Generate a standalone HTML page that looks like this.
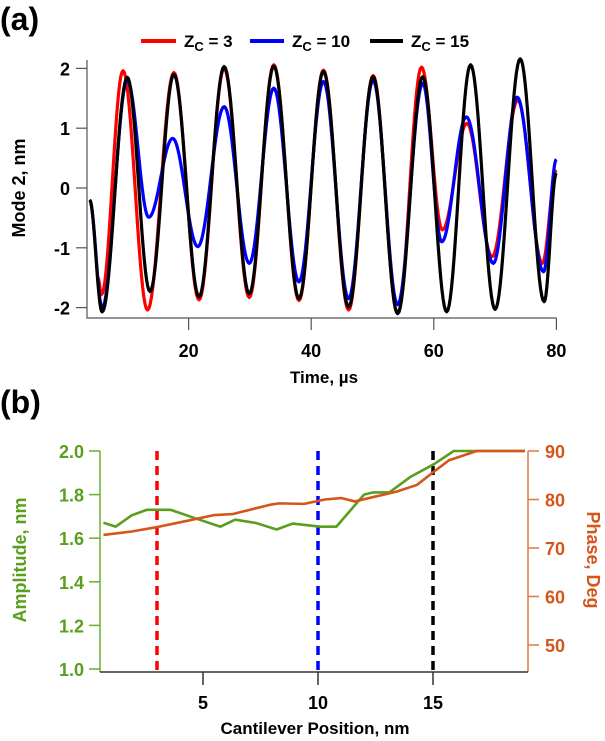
<!DOCTYPE html>
<html><head><meta charset="utf-8"><style>
body{margin:0;background:#fff;}
svg{display:block;font-family:"Liberation Sans",sans-serif;font-weight:bold;}
</style></head><body>
<svg id="fig" width="605" height="741" viewBox="0 0 605 741" xmlns="http://www.w3.org/2000/svg">
<text x="0" y="30" font-size="32">(a)</text>
<text x="0" y="413" font-size="32">(b)</text>
<g>
 <g><line x1="141" y1="41" x2="176" y2="41" stroke="#f00" stroke-width="4"/><text x="184" y="47" font-size="17">Z<tspan font-size="13" dy="4">C</tspan><tspan dy="-4"> = 3</tspan></text></g>
 <g><line x1="250" y1="41" x2="284" y2="41" stroke="#00f" stroke-width="4"/><text x="292" y="47" font-size="17">Z<tspan font-size="13" dy="4">C</tspan><tspan dy="-4"> = 10</tspan></text></g>
 <g><line x1="370" y1="41" x2="403" y2="41" stroke="#000" stroke-width="4"/><text x="411" y="47" font-size="17">Z<tspan font-size="13" dy="4">C</tspan><tspan dy="-4"> = 15</tspan></text></g>
</g>
<g id="pa"></g>
<g id="pb"></g>
</svg>
<script>
// Panel (a) data: extrema of each trace (time µs, displacement nm)
const redT=[5.2,5.8,9.3,13.3,17.6,21.7,25.8,29.9,33.9,38.0,42.0,46.1,50.1,54.1,58.0,61.4,65.4,69.5,73.7,77.7,80];
const redV=[-1.5,-1.78,1.96,-2.04,1.93,-1.87,2.0,-1.83,2.06,-1.88,1.97,-2.04,1.88,-2.1,2.02,-0.7,1.08,-1.15,1.47,-1.26,0.3];
const blueT=[3.85,5.9,10.0,13.5,17.4,21.5,25.8,29.9,33.9,38.0,42.0,46.1,50.1,54.1,58.2,61.3,65.3,69.7,73.6,77.9,80];
const blueV=[-0.2,-2.0,1.8,-0.49,0.83,-0.98,1.36,-1.26,1.67,-1.57,1.78,-1.85,1.8,-1.95,1.75,-0.9,1.19,-1.26,1.52,-1.4,0.48];
const blackT=[3.85,5.9,10.0,13.7,17.6,21.7,25.8,29.9,33.9,38.0,42.0,46.1,50.1,54.1,58.2,62.1,66.0,70.0,74.1,78.0,80];
const blackV=[-0.2,-2.07,1.85,-1.73,1.9,-1.82,2.03,-1.77,2.04,-1.85,1.95,-1.99,1.86,-2.1,1.86,-2.07,2.06,-2.03,2.16,-1.9,0.25];
const aXTicks=[20,40,60,80];
const aYTicks=[-2,-1,0,1,2];
// Panel (b) data
const posG=[0.67,1.2,1.9,2.55,3.6,4.7,5.75,6.4,7.3,8.2,8.9,10.1,10.8,12.0,12.4,13.1,14.0,15.05,15.9,19.0];
const amp=[1.671,1.653,1.705,1.73,1.73,1.69,1.653,1.685,1.67,1.64,1.667,1.653,1.653,1.80,1.81,1.81,1.88,1.94,2.0,2.0];
const posP=[0.67,1.9,3.1,4.1,5.5,6.3,7.9,8.3,9.4,10.3,11.0,11.6,12.4,13.4,14.3,15.0,15.7,16.9,19.0];
const phase=[72.7,73.4,74.4,75.4,76.8,77.0,78.9,79.2,79.1,80.0,80.3,79.6,80.5,81.6,83.0,85.6,88.1,90,90];
const markers=[3,10,15];
const markerColors=['#f00','#00f','#000'];
const bXTicks=[5,10,15];
const ampTicks=[1.0,1.2,1.4,1.6,1.8,2.0];
const phaseTicks=[50,60,70,80,90];

const NS='http://www.w3.org/2000/svg';
function mk(parent,tag,attrs){const e=document.createElementNS(NS,tag);for(const k in attrs)e.setAttribute(k,attrs[k]);parent.appendChild(e);return e;}
// axis functions
const ax=t=>66+(t)*6.13, ay=v=>188-v*59.8;
const bx=p=>88+p*23, bya=a=>451+(2-a)*218, byp=d=>451+(90-d)*4.85;

const pa=document.getElementById('pa');
function wave(T,V,color,name){
 let d='';
 for(let i=0;i<T.length-1;i++){
  for(let s=0;s<=20;s++){const f=s/20;const t=T[i]+(T[i+1]-T[i])*f;const v=V[i]+(V[i+1]-V[i])*(1-Math.cos(Math.PI*f))/2;
   d+=(d?'L':'M')+ax(t).toFixed(2)+' '+ay(v).toFixed(2);}
 }
 const p=mk(pa,'path',{d:d,fill:'none',stroke:color,'stroke-width':3.2,'stroke-linejoin':'round'});
 
 
}
wave(redT,redV,'#f00','series-zc3');
wave(blueT,blueV,'#00f','series-zc10');
wave(blackT,blackV,'#000','series-zc15');
// axes a
const axA=mk(pa,'path',{d:`M87 60V318H${ax(80)}`,fill:'none',stroke:'#555','stroke-width':1.2});


aXTicks.forEach(t=>{mk(pa,'line',{x1:ax(t),x2:ax(t),y1:318,y2:330,stroke:'#555','stroke-width':1.2});
 const tx=mk(pa,'text',{x:ax(t),y:357,'font-size':18,'text-anchor':'middle'});tx.textContent=t;
 
 });
aYTicks.forEach(v=>{mk(pa,'line',{x1:76,x2:87,y1:ay(v),y2:ay(v),stroke:'#555','stroke-width':1.2});
 const tx=mk(pa,'text',{x:70,y:ay(v)+7,'font-size':18,'text-anchor':'end'});tx.textContent=v;
 
 });
let t1=mk(pa,'text',{x:324,y:383,'font-size':17,'text-anchor':'middle'});t1.textContent='Time, µs';


let t2=mk(pa,'text',{x:0,y:0,'font-size':18,'text-anchor':'middle',transform:'translate(25,188) rotate(-90)'});t2.textContent='Mode 2, nm';



// panel b
const pb=document.getElementById('pb');
markers.forEach((m,i)=>{const l=mk(pb,'line',{x1:bx(m),x2:bx(m),y1:451,y2:670,stroke:markerColors[i],'stroke-width':3.5,'stroke-dasharray':'9 6'});
 
 });
function poly(X,Y,fx,fy,color,name){let d='';X.forEach((x,i)=>{d+=(i?'L':'M')+fx(x).toFixed(2)+' '+fy(Y[i]).toFixed(2);});
 const p=mk(pb,'path',{d:d,fill:'none',stroke:color,'stroke-width':2.6,'stroke-linejoin':'round'});
 
 }
poly(posG,amp,bx,bya,'#5a9e1e','amplitude-line');
poly(posP,phase,bx,byp,'#d4561a','phase-line');
mk(pb,'line',{x1:100,x2:100,y1:451,y2:672,stroke:'#6ab02e','stroke-width':1.5});
mk(pb,'line',{x1:528,x2:528,y1:451,y2:672,stroke:'#e07a40','stroke-width':1.5});
mk(pb,'line',{x1:100,x2:528,y1:672,y2:672,stroke:'#333','stroke-width':1.5});
bXTicks.forEach(t=>{mk(pb,'line',{x1:bx(t),x2:bx(t),y1:672,y2:685,stroke:'#333','stroke-width':1.5});
 const tx=mk(pb,'text',{x:bx(t),y:709,'font-size':18,'text-anchor':'middle'});tx.textContent=t;
 
 });
ampTicks.forEach(a=>{mk(pb,'line',{x1:89,x2:100,y1:bya(a),y2:bya(a),stroke:'#6ab02e','stroke-width':1.5});
 const tx=mk(pb,'text',{x:84,y:bya(a)+7,'font-size':18,'text-anchor':'end',fill:'#5a9e1e'});tx.textContent=a.toFixed(1);
 
 });
phaseTicks.forEach(p=>{mk(pb,'line',{x1:528,x2:539,y1:byp(p),y2:byp(p),stroke:'#e07a40','stroke-width':1.5});
 const tx=mk(pb,'text',{x:545,y:byp(p)+7,'font-size':18,fill:'#d4561a'});tx.textContent=p;
 
 });
let t3=mk(pb,'text',{x:315,y:734,'font-size':17,'text-anchor':'middle'});t3.textContent='Cantilever Position, nm';


let t4=mk(pb,'text',{x:0,y:0,'font-size':18,'text-anchor':'middle',fill:'#5a9e1e',transform:'translate(26,560) rotate(-90)'});t4.textContent='Amplitude, nm';


let t5=mk(pb,'text',{x:0,y:0,'font-size':18,'text-anchor':'middle',fill:'#d4561a',transform:'translate(587,560) rotate(90)'});t5.textContent='Phase, Deg';


</script>
</body></html>
